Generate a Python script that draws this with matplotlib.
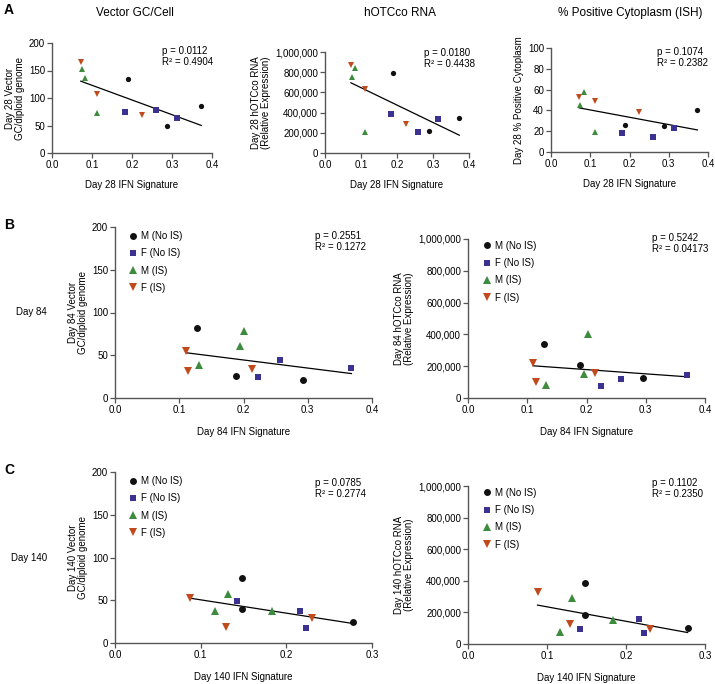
import numpy as np
import matplotlib
matplotlib.use("Agg")
import matplotlib.pyplot as plt
from matplotlib.ticker import FuncFormatter, MultipleLocator

plt.rcParams["font.family"] = ["Liberation Sans", "DejaVu Sans"]
plt.rcParams["font.size"] = 7

# ── Data ─────────────────────────────────────────────────────────────
groups = ["M (No IS)", "F (No IS)", "M (IS)", "F (IS)"]

# Day 28 IFN signature per group
d28_ifn = [[0.189, 0.288, 0.373], [0.182, 0.259, 0.313],
           [0.075, 0.083, 0.112], [0.072, 0.112, 0.225]]
d28_gc = [[135, 49, 85], [74, 78, 63], [153, 136, 72], [165, 108, 70]]
d28_rna = [[790000, 220000, 350000], [390000, 210000, 340000],
           [750000, 840000, 205000], [875000, 635000, 290000]]
d28_ish_x = [[0.189, 0.288, 0.373], [0.182, 0.259, 0.313],
             [0.075, 0.083, 0.112], [0.072, 0.112, 0.225]]
d28_ish = [[26, 25, 40.5], [18.5, 14, 23.5], [45, 57.5, 19.5], [52.5, 49, 38]]

# Day 84
d84_ifn = [[0.127, 0.188, 0.293], [0.223, 0.257, 0.368],
           [0.130, 0.194, 0.201], [0.110, 0.114, 0.213]]
d84_gc = [[82, 26, 21], [25, 45, 35], [39, 61, 78], [55, 31, 34]]
d84_rna_x = [[0.128, 0.189, 0.295], [0.224, 0.259, 0.370],
             [0.131, 0.195, 0.203], [0.110, 0.115, 0.215]]
d84_rna = [[339000, 206000, 126000], [78000, 118000, 147000],
           [84000, 154000, 404000], [217000, 101000, 160000]]

# Day 140
d140_ifn = [[0.148, 0.148, 0.278], [0.142, 0.216, 0.223],
            [0.117, 0.132, 0.183], [0.088, 0.129, 0.230]]
d140_gc = [[76, 40, 25], [49, 37, 17], [37, 57, 37], [53, 19, 29]]
d140_rna = [[384000, 183000, 101000], [95000, 156000, 72000],
            [76000, 289000, 150000], [331000, 127000, 97000]]

stats = {
    "A1": "p = 0.0112\nR² = 0.4904",
    "A2": "p = 0.0180\nR² = 0.4438",
    "A3": "p = 0.1074\nR² = 0.2382",
    "B1": "p = 0.2551\nR² = 0.1272",
    "B2": "p = 0.5242\nR² = 0.04173",
    "C1": "p = 0.0785\nR² = 0.2774",
    "C2": "p = 0.1102\nR² = 0.2350",
}

# ── Styling ──────────────────────────────────────────────────────────
markers = ["o", "s", "^", "v"]
size_scale = [1.0, 0.95, 1.25, 1.25]   # triangles look small otherwise
colors = ["#111111", "#3b3190", "#3d8b3d", "#c04a1c"]
spine_col = "#555555"

W, H = 715, 684
fig = plt.figure(figsize=(W / 100, H / 100), dpi=100)


def make_ax(x0, x1, y0, y1):
    return fig.add_axes([x0 / W, 1 - y1 / H, (x1 - x0) / W, (y1 - y0) / H])


def comma(v, pos):
    return f"{int(v):,}"


def panel(ax, xs, ys, xmax, ymax, ystep, ylabel, xlabel, stat, stat_pos,
          ms, legend=None, xlabelpad=6, comma_y=False):
    for g in range(4):
        ax.plot(xs[g], ys[g], linestyle="none", marker=markers[g], color=colors[g],
                markersize=ms * size_scale[g], markeredgewidth=0,
                label=groups[g], zorder=3)
    allx = np.concatenate([np.array(v, float) for v in xs])
    ally = np.concatenate([np.array(v, float) for v in ys])
    k, b = np.polyfit(allx, ally, 1)
    lx = np.array([allx.min(), allx.max()])
    ax.plot(lx, k * lx + b, color="black", lw=0.9, zorder=2)

    ax.set_xlim(0, xmax)
    ax.set_ylim(0, ymax)
    ax.xaxis.set_major_locator(MultipleLocator(0.1))
    ax.yaxis.set_major_locator(MultipleLocator(ystep))
    ax.xaxis.set_major_formatter(FuncFormatter(lambda v, p: f"{v:.1f}"))
    if comma_y:
        ax.yaxis.set_major_formatter(FuncFormatter(comma))
    for s in ["top", "right"]:
        ax.spines[s].set_visible(False)
    for s in ["left", "bottom"]:
        ax.spines[s].set_color(spine_col)
        ax.spines[s].set_linewidth(1.0)
    ax.tick_params(direction="out", length=3.5, width=0.9, color=spine_col,
                   labelsize=7, pad=1.5)
    ax.set_ylabel(ylabel, fontsize=7, linespacing=1.0, labelpad=3)
    ax.set_xlabel(xlabel, fontsize=7, labelpad=xlabelpad)
    ax.text(stat_pos[0], stat_pos[1], stat, transform=ax.transAxes,
            ha="left", va="top", fontsize=7, linespacing=1.1)
    if legend is not None:
        ax.legend(loc="upper left", bbox_to_anchor=legend, frameon=False,
                  fontsize=7, handlelength=0.8, handletextpad=0.4,
                  labelspacing=0.75, borderpad=0, markerscale=1.0)


# ── Row A (day 28) ───────────────────────────────────────────────────
axA1 = make_ax(52, 212, 43, 153)
panel(axA1, d28_ifn, d28_gc, 0.4, 200, 50, "Day 28 Vector\nGC/diploid genome",
      "Day 28 IFN Signature", stats["A1"], (0.69, 0.97), 3.8, xlabelpad=7)
axA2 = make_ax(325, 469, 52, 153)
panel(axA2, d28_ifn, d28_rna, 0.4, 1000000, 200000,
      "Day 28 hOTCco RNA\n(Relative Expression)", "Day 28 IFN Signature",
      stats["A2"], (0.69, 1.04), 3.8, xlabelpad=7, comma_y=True)
axA3 = make_ax(551, 708, 48, 152)
panel(axA3, d28_ish_x, d28_ish, 0.4, 100, 20, "Day 28 % Positive Cytoplasm",
      "Day 28 IFN Signature", stats["A3"], (0.675, 1.01), 3.8, xlabelpad=7)

fig.text(135 / W, 1 - 13 / H, "Vector GC/Cell", ha="center", va="center", fontsize=8.5)
fig.text(400 / W, 1 - 13 / H, "hOTCco RNA", ha="center", va="center", fontsize=8.5)
fig.text(630 / W, 1 - 13 / H, "% Positive Cytoplasm (ISH)", ha="center", va="center", fontsize=8.5)

# ── Row B (day 84) ───────────────────────────────────────────────────
axB1 = make_ax(115, 372, 227, 398)
panel(axB1, d84_ifn, d84_gc, 0.4, 200, 50, "Day 84 Vector\nGC/diploid genome",
      "Day 84 IFN Signature", stats["B1"], (0.78, 0.975), 5.0,
      legend=(0.035, 1.005), xlabelpad=9)
axB2 = make_ax(468, 705, 239, 398)
panel(axB2, d84_rna_x, d84_rna, 0.4, 1000000, 200000,
      "Day 84 hOTCco RNA\n(Relative Expression)", "Day 84 IFN Signature",
      stats["B2"], (0.776, 1.035), 5.0, legend=(0.045, 1.02),
      xlabelpad=9, comma_y=True)

# ── Row C (day 140) ──────────────────────────────────────────────────
axC1 = make_ax(115, 372, 472, 643)
panel(axC1, d140_ifn, d140_gc, 0.3, 200, 50, "Day 140 Vector\nGC/diploid genome",
      "Day 140 IFN Signature", stats["C1"], (0.78, 0.965), 5.0,
      legend=(0.035, 1.005), xlabelpad=9)
axC2 = make_ax(468, 705, 486, 644)
panel(axC2, d140_ifn, d140_rna, 0.3, 1000000, 200000,
      "Day 140 hOTCco RNA\n(Relative Expression)", "Day 140 IFN Signature",
      stats["C2"], (0.776, 1.05), 5.0, legend=(0.045, 1.02),
      xlabelpad=9, comma_y=True)

# ── Panel letters and row labels ─────────────────────────────────────
fig.text(4 / W, 1 - 10 / H, "A", fontsize=10, fontweight="bold", ha="left", va="center")
fig.text(4 / W, 1 - 225 / H, "B", fontsize=10, fontweight="bold", ha="left", va="center")
fig.text(4 / W, 1 - 470 / H, "C", fontsize=10, fontweight="bold", ha="left", va="center")
fig.text(31 / W, 1 - 312 / H, "Day 84", fontsize=7, ha="center", va="center")
fig.text(29 / W, 1 - 558 / H, "Day 140", fontsize=7, ha="center", va="center")

fig.savefig("out.png", dpi=100)
